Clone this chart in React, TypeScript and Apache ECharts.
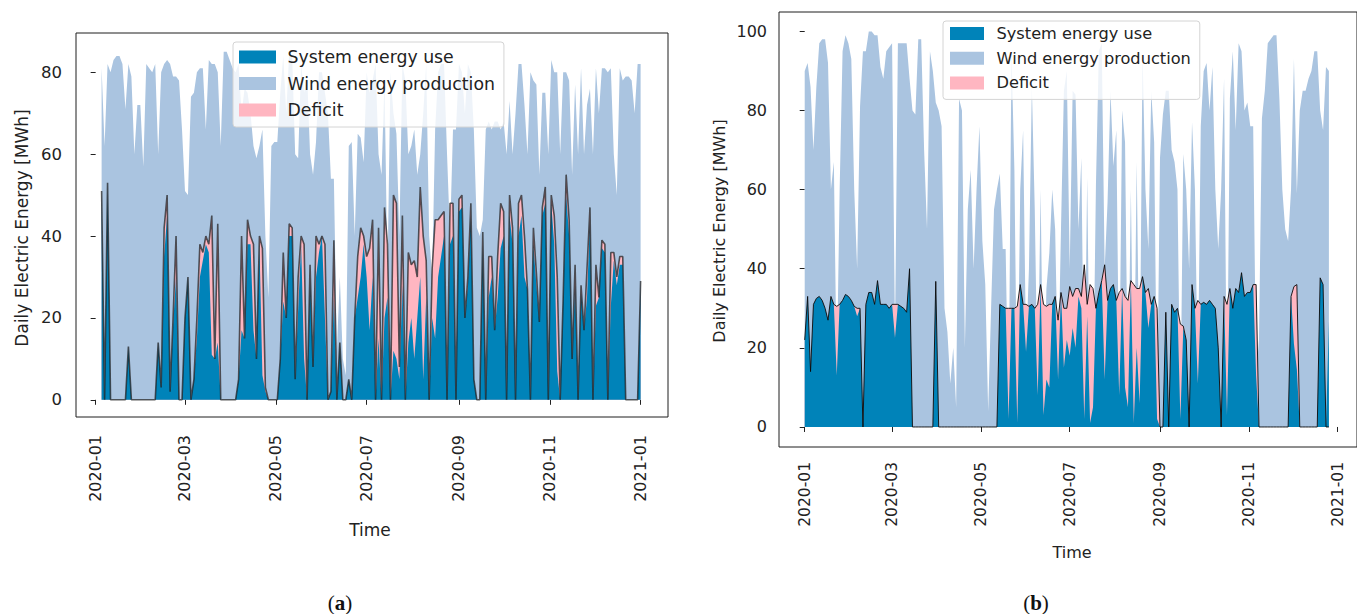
import React, { useEffect, useRef } from "react";
import * as echarts from "echarts";

// ---------- shared ----------
const STEP = 2; // days between samples
const MONTH_TICKS = [0, 60, 121, 182, 244, 305, 366]; // days since 2020-01-01
const MONTH_LABELS = ["2020-01", "2020-03", "2020-05", "2020-07", "2020-09", "2020-11", "2021-01"];
const NAMES = ["System energy use", "Wind energy production", "Deficit"];

// ---------- panel (a) : samples every 2 days starting on day 4 ----------
const A_START = 4;
const A_WIND = [
  81, 62, 82, 80, 83, 84, 84, 82, 71, 82, 79, 60, 72, 72,
  57, 82, 81, 80, 82, 60, 80, 82, 83, 82, 79, 79, 78, 66,
  51, 50, 74, 75, 80, 81, 81, 66, 83, 82, 82, 80, 62, 85, 85, 83,
  81, 80, 82, 70, 76, 75, 70, 62, 59, 62, 66, 40, 25, 62, 63,
  63, 75, 84, 70, 85, 84, 60, 59, 82, 75, 80, 60, 55, 63, 80,
  80, 75, 70, 54, 54, 12, 30, 10, 6, 62, 63, 40, 65, 64, 58,
  80, 75, 78, 82, 60, 55, 78, 30, 80, 70, 65, 40, 82, 78, 60, 62,
  66, 55, 60, 70, 82, 40, 30, 66, 80, 82, 82, 60, 40, 66, 66,
  82, 80, 70, 82, 80, 66, 42, 40, 44, 66, 68, 66, 68, 68, 66,
  68, 60, 73, 60, 70, 82, 82, 72, 60, 80, 78, 77, 55, 75, 75, 60,
  83, 80, 80, 60, 80, 80, 78, 55, 77, 60, 81, 60, 72, 76, 60,
  81, 70, 81, 81, 80, 81, 60, 50, 81, 78, 79, 79, 78, 70, 82, 82,
];
const A_DEMAND = [
  51, 0, 53, 0, 0, 0, 0, 0, 0, 13, 0, 0, 0, 0,
  0, 0, 0, 0, 0, 14, 3, 42, 50, 2, 20, 40, 0, 0,
  20, 30, 0, 5, 20, 38, 36, 40, 38, 45, 10, 43, 0, 0, 0, 0,
  0, 0, 5, 40, 15, 44, 40, 38, 10, 40, 37, 3, 0, 0, 0,
  0, 10, 36, 20, 43, 42, 5, 30, 40, 38, 0, 33, 8, 40, 38,
  40, 38, 0, 2, 39, 0, 14, 0, 0, 5, 0, 20, 35, 42, 40,
  35, 37, 44, 0, 42, 0, 47, 38, 0, 50, 48, 8, 45, 0, 36, 33,
  34, 30, 52, 40, 34, 0, 32, 44, 44, 45, 46, 0, 48, 48, 0,
  49, 50, 20, 30, 48, 5, 0, 0, 41, 0, 35, 35, 17, 35, 48,
  46, 0, 50, 42, 0, 48, 50, 40, 27, 0, 42, 31, 19, 47, 52, 0,
  50, 45, 30, 0, 25, 55, 44, 10, 33, 0, 28, 17, 32, 47, 0,
  33, 25, 39, 38, 0, 36, 36, 30, 35, 35, 0, 0, 0, 0, 0, 29,
];
const A_USE = [
  51, 0, 53, 0, 0, 0, 0, 0, 0, 13, 0, 0, 0, 0,
  0, 0, 0, 0, 0, 14, 3, 35, 45, 2, 18, 30, 0, 0,
  20, 30, 0, 5, 15, 30, 34, 38, 36, 11, 10, 14, 0, 0, 0, 0,
  0, 0, 5, 17, 15, 38, 38, 17, 10, 38, 6, 2, 0, 0, 0,
  0, 10, 24, 20, 40, 40, 5, 22, 38, 10, 0, 30, 8, 30, 36,
  40, 20, 0, 2, 25, 0, 14, 0, 0, 5, 0, 20, 25, 30, 38,
  30, 17, 30, 0, 15, 0, 20, 25, 0, 12, 10, 5, 28, 0, 14, 20,
  10, 20, 30, 5, 25, 0, 20, 15, 30, 35, 40, 0, 38, 40, 0,
  46, 47, 20, 28, 45, 5, 0, 0, 38, 0, 25, 30, 17, 25, 37,
  40, 0, 45, 38, 0, 40, 45, 30, 27, 0, 38, 28, 19, 45, 48, 0,
  48, 38, 7, 0, 25, 50, 40, 10, 28, 0, 26, 17, 25, 44, 0,
  23, 25, 37, 36, 0, 23, 34, 28, 33, 33, 0, 0, 0, 0, 0, 29,
];
const A_YTICKS = [0, 20, 40, 60, 80];

// ---------- panel (b) : samples every 2 days starting on day 0 ----------
const B_START = 0;
const B_WIND = [
  90, 92, 86, 70, 86, 97, 98, 98, 92, 60, 67, 13, 60, 95, 99, 97,
  93, 60, 40, 81, 95, 95, 100, 100, 99, 99, 91, 88, 95, 96,
  97, 23, 97, 97, 97, 97, 88, 80, 79, 98, 98, 70, 50, 95, 90, 82,
  80, 76, 30, 24, 11, 20, 5, 83, 80, 20, 55, 65, 40, 60, 76,
  47, 36, 4, 30, 55, 60, 64, 45, 45, 2, 95, 65, 1, 60, 75,
  19, 40, 86, 55, 8, 60, 3, 35, 44, 60, 50, 12, 50, 85, 90,
  40, 85, 84, 50, 68, 2, 63, 1, 5, 61, 95, 97, 40, 57, 85, 66,
  75, 8, 80, 72, 5, 60, 1, 67, 6, 95, 60, 45, 85, 72, 2,
  68, 79, 85, 85, 70, 67, 60, 2, 69, 60, 40, 77, 60, 11, 76,
  90, 92, 80, 91, 60, 45, 60, 88, 3, 83, 95, 75, 97, 95, 80, 82,
  76, 76, 13, 22, 78, 85, 97, 98, 99, 99, 83, 60, 50, 47, 60,
  93, 59, 80, 85, 85, 88, 90, 95, 95, 80, 75, 91, 90,
];
const B_DEMAND = [
  22, 33, 14, 31, 32.5, 33, 32, 30, 27, 33, 31, 30.5, 31, 32, 33.5, 33,
  32, 30.5, 30, 30, 0, 31, 34, 34, 31, 37, 31, 31, 31, 30,
  31, 31, 31, 30.5, 30, 29, 40, 0, 0, 0, 0, 0, 0, 0, 0, 36.8,
  0, 0, 0, 0, 0, 0, 0, 0, 0, 0, 0, 0, 0, 0, 0,
  0, 0, 0, 0, 0, 0, 31, 30.5, 30, 30, 30, 30, 30.5, 36, 31,
  31, 30.5, 31, 30, 31, 36, 31, 30.5, 31, 31, 33, 27, 34, 30, 30,
  35.5, 33, 35, 35, 33, 41, 31, 36, 35, 30, 34, 37, 41, 32, 35, 36,
  32, 34, 35, 33, 32, 37, 36, 35, 35, 38, 34, 35, 31, 33, 30,
  0, 0, 29, 0, 31, 29, 30, 26, 25.5, 22, 0, 36, 30, 32, 31,
  31.5, 31, 32, 31, 30, 20, 0, 33, 31, 35, 30, 35, 34, 39, 33, 34,
  34, 36, 36, 0, 0, 0, 0, 0, 0, 0, 0, 0, 0, 0, 33,
  35.5, 36, 0, 0, 0, 0, 0, 0, 0, 37.7, 36, 0, 0,
];
const B_USE = [
  22, 33, 14, 31, 32.5, 33, 32, 30, 27, 33, 31, 13, 31, 32, 33.5, 33,
  32, 30.5, 28, 30, 0, 31, 34, 34, 31, 37, 31, 31, 31, 30,
  31, 22.5, 31, 30.5, 30, 29, 40, 0, 0, 0, 0, 0, 0, 0, 0, 36.8,
  0, 0, 0, 0, 0, 0, 0, 0, 0, 0, 0, 0, 0, 0, 0,
  0, 0, 0, 0, 0, 0, 31, 30.5, 30, 2, 30, 30, 1, 36, 31,
  19, 30.5, 31, 30, 8, 36, 3, 12, 10, 31, 33, 12, 34, 15, 22,
  18, 25, 20, 33, 30, 2, 28, 1, 5, 30, 34, 37, 12, 32, 35, 36,
  32, 8, 35, 10, 5, 37, 1, 20, 6, 38, 34, 25, 31, 33, 2,
  0, 0, 29, 0, 31, 29, 30, 2, 25, 22, 0, 36, 30, 11, 31,
  31.5, 31, 32, 31, 30, 20, 0, 33, 3, 35, 30, 35, 34, 39, 33, 34,
  34, 36, 13, 0, 0, 0, 0, 0, 0, 0, 0, 0, 0, 0, 33,
  21, 14.5, 0, 0, 0, 0, 0, 0, 0, 37.7, 36, 0, 26.7,
];
const B_YTICKS = [0, 20, 40, 60, 80, 100];

// ---------- styles ----------
const DARK = "#0083b9";
const LIGHT = "#aac4e0";
const PINK = "#ffb6c1";
const TXT = "#222222";
const FONT = "DejaVu Sans";

function pairs(start: number, vals: number[]) {
  return vals.map((v, i) => [start + i * STEP, v]);
}

function areaSeries(name: string, color: string, data: number[][], idx: number) {
  return {
    name,
    type: "line",
    xAxisIndex: idx,
    yAxisIndex: idx,
    data,
    symbol: "none",
    showSymbol: false,
    color,
    lineStyle: { width: 0, color, opacity: 0 },
    areaStyle: { color, opacity: 1 },
    itemStyle: { color },
    silent: true,
  };
}

function panelSeries(idx: number, start: number, wind: number[], demand: number[], use: number[], lineW: number, lineC: string) {
  return [
    areaSeries(NAMES[1], LIGHT, pairs(start, wind), idx),
    areaSeries(NAMES[2], PINK, pairs(start, demand), idx),
    areaSeries(NAMES[0], DARK, pairs(start, use), idx),
    {
      name: "Demand",
      type: "line",
      xAxisIndex: idx,
      yAxisIndex: idx,
      data: pairs(start, demand),
      symbol: "none",
      showSymbol: false,
      lineStyle: { width: lineW, color: lineC },
      silent: true,
    },
  ];
}

function xAxis(idx: number, min: number, max: number, fs: number, margin: number) {
  return {
    type: "value",
    gridIndex: idx,
    min,
    max,
    axisLine: { show: false },
    splitLine: { show: false },
    axisTick: { show: true, length: 5, customValues: MONTH_TICKS, lineStyle: { color: TXT, width: 1 } },
    axisLabel: {
      customValues: MONTH_TICKS,
      rotate: 90,
      margin,
      color: TXT,
      fontFamily: FONT,
      fontSize: fs,
      formatter: (v: number) => {
        const k = MONTH_TICKS.indexOf(Math.round(v));
        return k >= 0 ? MONTH_LABELS[k] : "";
      },
    },
  };
}

function yAxis(idx: number, min: number, max: number, ticks: number[], fs: number, margin: number) {
  return {
    type: "value",
    gridIndex: idx,
    min,
    max,
    axisLine: { show: false },
    splitLine: { show: false },
    axisTick: { show: true, length: 5, customValues: ticks, lineStyle: { color: TXT, width: 1 } },
    axisLabel: { customValues: ticks, margin, color: TXT, fontFamily: FONT, fontSize: fs, formatter: (v: number) => String(Math.round(v)) },
  };
}

function legend(left: number, top: number, iw: number, fs: number, lh: number, gap: number, pad: number[], textPad: number) {
  return {
    show: true,
    orient: "vertical",
    left,
    top,
    itemWidth: iw,
    itemHeight: 13,
    itemGap: gap,
    icon: "rect",
    selectedMode: false,
    backgroundColor: "rgba(255,255,255,0.8)",
    borderColor: "#d4d4d4",
    borderWidth: 1,
    borderRadius: 3,
    padding: pad,
    textStyle: { color: TXT, fontFamily: FONT, fontSize: fs, lineHeight: lh, padding: [0, 0, 0, textPad] },
    data: [
      { name: NAMES[0], itemStyle: { color: DARK, borderWidth: 0 } },
      { name: NAMES[1], itemStyle: { color: LIGHT, borderWidth: 0 } },
      { name: NAMES[2], itemStyle: { color: PINK, borderWidth: 0 } },
    ],
  };
}

function label(text: string, x: number, y: number, fs: number, rot = 0) {
  return {
    type: "text",
    x,
    y,
    rotation: rot,
    silent: true,
    style: { text, fill: TXT, fontFamily: FONT, fontSize: fs, textAlign: "center", textVerticalAlign: "middle" },
  };
}

function panelTag(letter: string, x: number, y: number) {
  return {
    type: "text",
    x,
    y,
    silent: true,
    style: {
      text: "{n|(}{b|" + letter + "}{n|)}",
      textAlign: "center",
      textVerticalAlign: "middle",
      rich: {
        n: { fontFamily: "Liberation Serif", fontSize: 21, fill: "#111" },
        b: { fontFamily: "Liberation Serif", fontSize: 21, fontWeight: "bold", fill: "#111" },
      },
    },
  };
}

export default function App() {
  const ref = useRef<HTMLDivElement>(null);
  useEffect(() => {
    if (!ref.current) return;
    const chart = echarts.init(ref.current, undefined, { renderer: "svg" });
    const option: any = {
      animation: false,
      backgroundColor: "#ffffff",
      grid: [
        { left: 76, top: 33, width: 592, height: 384, show: true, borderColor: "#1e1e1e", borderWidth: 1, backgroundColor: "transparent" },
        { left: 779, top: 12, width: 587, height: 435, show: true, borderColor: "#1e1e1e", borderWidth: 1, backgroundColor: "transparent" },
      ],
      xAxis: [xAxis(0, -13.2, 384.4, 16, 18), xAxis(1, -17.66, 379.3, 15.5, 15)],
      yAxis: [yAxis(0, -4.2, 89.6, A_YTICKS, 16.5, 14), yAxis(1, -5.06, 104.9, B_YTICKS, 16, 12)],
      legend: [
        legend(233, 42, 37, 17.3, 20, 6.5, [5, 9, 7, 6], 6.5),
        legend(943, 21, 34, 16.2, 19, 5.7, [3, 9, 7, 7], 7.5),
      ],
      series: [
        ...panelSeries(0, A_START, A_WIND, A_DEMAND, A_USE, 1.6, "rgba(25,25,25,0.7)"),
        ...panelSeries(1, B_START, B_WIND, B_DEMAND, B_USE, 1, "rgba(10,10,10,0.9)"),
      ],
      graphic: [
        label("Daily Electric Energy [MWh]", 22, 228, 17, Math.PI / 2),
        label("Time", 370, 530, 17),
        label("Daily Electric Energy [MWh]", 719, 231, 16, Math.PI / 2),
        label("Time", 1072, 552, 16),
        panelTag("a", 340, 603),
        panelTag("b", 1036, 603),
      ],
    };
    chart.setOption(option);
    return () => chart.dispose();
  }, []);
  return <div ref={ref} style={{ position: "absolute", left: 0, top: 0, width: 1357, height: 614 }} />;
}
